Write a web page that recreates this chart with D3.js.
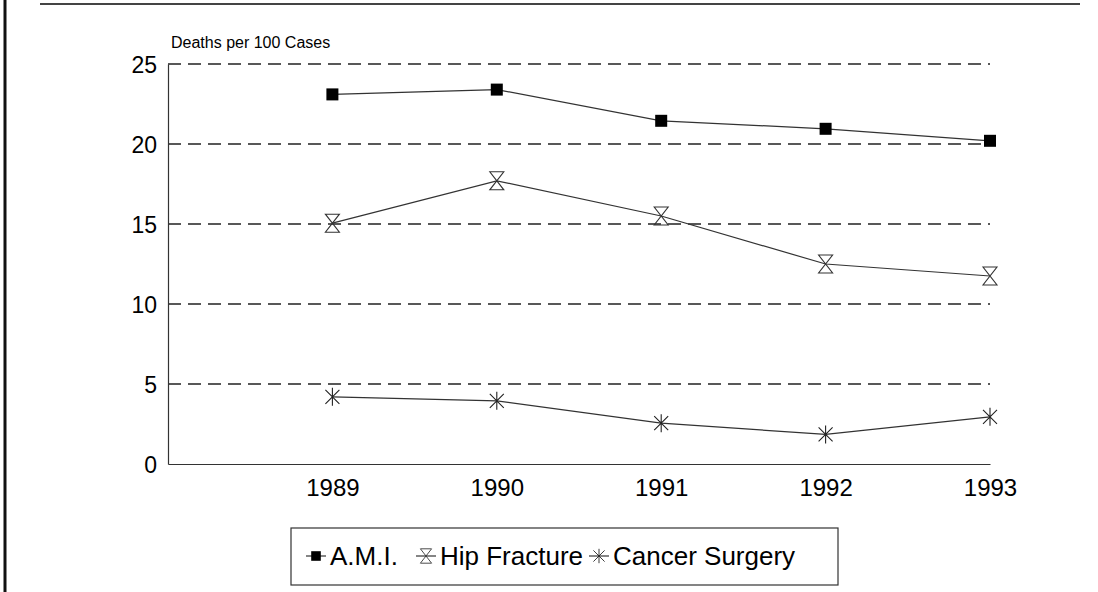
<!DOCTYPE html>
<html>
<head>
<meta charset="utf-8">
<script src="https://cdn.jsdelivr.net/npm/d3@7"></script>
<style>
  body { margin: 0; background: #fff; }
  svg { display: block; font-family: "Liberation Sans", Arial, sans-serif; }
</style>
</head>
<body>
<div id="chart"></div>
<script>
var years = [1989, 1990, 1991, 1992, 1993];
var ami = [23.1, 23.4, 21.45, 20.95, 20.2];
var hip = [15.05, 17.7, 15.5, 12.5, 11.75];
var cancer = [4.2, 3.95, 2.55, 1.85, 2.95];
var yTicks = [0, 5, 10, 15, 20, 25];
var seriesNames = ["A.M.I.", "Hip Fracture", "Cancer Surgery"];

var width = 1098, height = 592;

var svg = d3.select("#chart").append("svg")
  .attr("width", width)
  .attr("height", height);

// frame bits from the scanned page
svg.append("line")
  .attr("x1", 5).attr("x2", 5).attr("y1", 0).attr("y2", height)
  .attr("stroke", "#111").attr("stroke-width", 3);
svg.append("line")
  .attr("x1", 40).attr("x2", 1080).attr("y1", 4).attr("y2", 4)
  .attr("stroke", "#444").attr("stroke-width", 2);

var x = d3.scaleLinear().domain([1988, 1993]).range([168, 990]);
var y = d3.scaleLinear().domain([0, 25]).range([464, 64]);

// dashed gridlines
svg.selectAll(".grid")
  .data(yTicks.filter(function(d) { return d > 0; }))
  .enter()
  .append("line")
  .attr("class", "grid")
  .attr("x1", x(1988)).attr("x2", x(1993))
  .attr("y1", function(d) { return y(d); })
  .attr("y2", function(d) { return y(d); })
  .attr("stroke", "#222")
  .attr("stroke-width", 1.3)
  .attr("stroke-dasharray", "13,7");

// axes
var yAxis = svg.append("g")
  .attr("transform", "translate(" + x(1988) + ",0)")
  .call(d3.axisLeft(y).tickValues(yTicks).tickSize(0).tickPadding(11));
var xAxis = svg.append("g")
  .attr("transform", "translate(0," + y(0) + ")")
  .call(d3.axisBottom(x).tickValues(years).tickSize(0).tickPadding(15).tickFormat(d3.format("d")));

[yAxis, xAxis].forEach(function(g) {
  g.select(".domain").attr("stroke", "#333").attr("stroke-width", 1.2);
  g.selectAll("text").attr("fill", "#000")
    .style("font-family", "'Liberation Sans', Arial, sans-serif");
});
yAxis.selectAll("text").attr("dy", "0.36em").style("font-size", "23px");
xAxis.selectAll("text").style("font-size", "24px");

svg.append("text")
  .attr("x", 171).attr("y", 48)
  .style("font-size", "16px")
  .text("Deaths per 100 Cases");

var line = d3.line()
  .x(function(d, i) { return x(years[i]); })
  .y(function(d) { return y(d); });

// marker shapes
function square(g) {
  g.append("rect").attr("x", -6).attr("y", -6).attr("width", 12).attr("height", 12)
    .attr("fill", "#000");
}
function hourglass(g) {
  g.append("path")
    .attr("d", "M-7,-9H7L-7,9H7Z")
    .attr("fill", "none").attr("stroke", "#333").attr("stroke-width", 1.1);
}
function star(g) {
  g.append("path")
    .attr("d", "M0,-9V9M-7,-7L7,7M-7,7L7,-7")
    .attr("fill", "none").attr("stroke", "#222").attr("stroke-width", 1.1);
}
var markers = [square, hourglass, star];
var series = [ami, hip, cancer];

series.forEach(function(vals, s) {
  svg.append("path")
    .datum(vals)
    .attr("d", line)
    .attr("fill", "none")
    .attr("stroke", "#333")
    .attr("stroke-width", 1.2);
  svg.selectAll(".m" + s)
    .data(vals)
    .enter()
    .append("g")
    .attr("class", "m" + s)
    .attr("transform", function(d, i) { return "translate(" + x(years[i]) + "," + y(d) + ")"; })
    .each(function() { markers[s](d3.select(this)); });
});

// legend
var legend = svg.append("g");
legend.append("rect")
  .attr("x", 291).attr("y", 528).attr("width", 547).attr("height", 57)
  .attr("fill", "none").attr("stroke", "#333").attr("stroke-width", 1.2);

var legendX = [316, 426, 599];
seriesNames.forEach(function(name, s) {
  var g = legend.append("g").attr("transform", "translate(" + legendX[s] + ",556)");
  g.append("line").attr("x1", -10).attr("x2", 10).attr("stroke", "#333").attr("stroke-width", 1.2);
  var m = g.append("g").attr("transform", "scale(0.8)");
  markers[s](m);
  g.append("text")
    .attr("x", 14).attr("dy", "0.36em")
    .style("font-size", "26px")
    .text(name);
});
</script>
</body>
</html>
